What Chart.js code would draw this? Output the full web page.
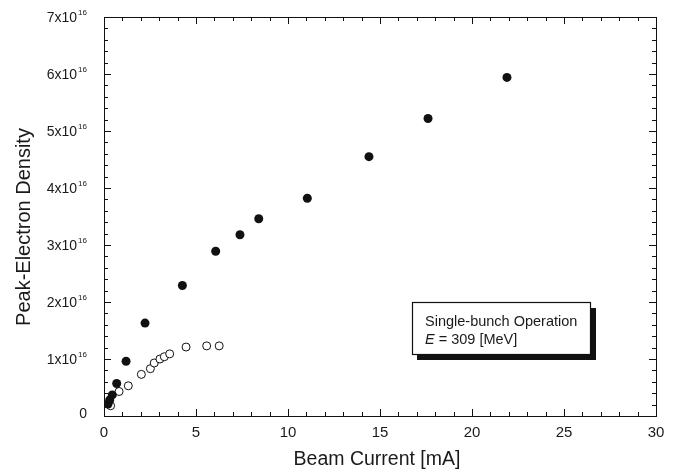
<!DOCTYPE html>
<html>
<head>
<meta charset="utf-8">
<script src="https://cdn.jsdelivr.net/npm/chart.js@4/dist/chart.umd.min.js"></script>
<style>
  html, body { margin: 0; padding: 0; background: #fff; }
  #wrap { width: 674px; height: 472px; }
</style>
</head>
<body>
<div id="wrap"><canvas id="c" width="674" height="472"></canvas></div>
<script>
// Beam current [mA] and peak electron density [10^16] for single-bunch runs
const filledCurrent = [0.22, 0.31, 0.45, 0.69, 1.20, 2.23, 4.26, 6.07, 7.39, 8.41, 11.05, 14.40, 17.61, 21.90];
const filledDensity = [0.21, 0.28, 0.37, 0.57, 0.96, 1.63, 2.29, 2.89, 3.18, 3.46, 3.82, 4.55, 5.22, 5.94];

const openCurrent = [0.36, 0.82, 1.32, 2.03, 2.52, 2.73, 3.04, 3.28, 3.57, 4.46, 5.58, 6.26];
const openDensity = [0.18, 0.43, 0.53, 0.73, 0.83, 0.93, 1.00, 1.04, 1.09, 1.21, 1.23, 1.23];

const xTicks = [0, 5, 10, 15, 20, 25, 30];
const yTicks = [0, 1, 2, 3, 4, 5, 6, 7];   // in units of 10^16

const xTitle = 'Beam Current [mA]';
const yTitle = 'Peak-Electron Density';
const noteLine1 = 'Single-bunch Operation';
const noteLine2 = ['E', ' = 309 [MeV]'];

const FONT = '"Liberation Sans", Arial, sans-serif';

function pairs(xs, ys) { return xs.map((x, i) => ({ x: x, y: ys[i] })); }

// Frame, inward ticks on all four sides, tick labels, titles and the note box
const framePlugin = {
  id: 'frame',
  afterDraw(chart) {
    const ctx = chart.ctx;
    const xs = chart.scales.x, ys = chart.scales.y;
    const a = chart.chartArea;
    ctx.save();
    ctx.strokeStyle = '#111';
    ctx.lineWidth = 1;
    ctx.strokeRect(a.left + 0.5, a.top + 0.5, a.right - a.left, a.bottom - a.top);

    ctx.beginPath();
    for (let v = 0; v <= 30 + 1e-9; v += 1) {
      const px = Math.round(xs.getPixelForValue(v)) + 0.5;
      const len = (Math.round(v) % 5 === 0) ? 7 : 4;
      ctx.moveTo(px, a.bottom); ctx.lineTo(px, a.bottom - len);
      ctx.moveTo(px, a.top); ctx.lineTo(px, a.top + len);
    }
    for (let k = 0; k <= 35; k++) {
      const v = k * 0.2;
      const py = Math.round(ys.getPixelForValue(v)) + 0.5;
      const len = (k % 5 === 0) ? 7 : 4;
      ctx.moveTo(a.left, py); ctx.lineTo(a.left + len, py);
      ctx.moveTo(a.right, py); ctx.lineTo(a.right - len, py);
    }
    ctx.stroke();

    ctx.fillStyle = '#1a1a1a';
    ctx.font = '15px ' + FONT;
    ctx.textAlign = 'center';
    ctx.textBaseline = 'middle';
    xTicks.forEach(v => ctx.fillText(String(v), xs.getPixelForValue(v), a.bottom + 17));

    const labelRight = 87;
    yTicks.forEach(v => {
      const py = ys.getPixelForValue(v);
      ctx.textBaseline = 'middle';
      if (v === 0) {
        ctx.font = '14px ' + FONT;
        ctx.textAlign = 'right';
        ctx.fillText('0', labelRight, py - 2);
        return;
      }
      ctx.font = '8px ' + FONT;
      ctx.textAlign = 'right';
      const supW = ctx.measureText('16').width;
      ctx.fillText('16', labelRight, py - 4);
      ctx.font = '14px ' + FONT;
      ctx.fillText(v + 'x10', labelRight - supW - 1, py + 1);
    });

    ctx.font = '19.5px ' + FONT;
    ctx.textAlign = 'center';
    ctx.textBaseline = 'middle';
    ctx.fillText(xTitle, 377, 460);
    ctx.save();
    ctx.font = '20px ' + FONT;
    ctx.textBaseline = 'alphabetic';
    ctx.translate(30, 227);
    ctx.rotate(-Math.PI / 2);
    ctx.fillText(yTitle, 0, 0);
    ctx.restore();

    // note box with drop shadow
    const bx = 412, by = 302, bw = 178, bh = 52, sh = 6;
    ctx.fillStyle = '#111';
    ctx.fillRect(bx + bw, by + sh, sh, bh);
    ctx.fillRect(bx + sh - 1, by + bh, bw - sh + 1, sh);
    ctx.fillStyle = '#fff';
    ctx.fillRect(bx, by, bw, bh);
    ctx.strokeStyle = '#111';
    ctx.lineWidth = 1.2;
    ctx.strokeRect(bx + 0.5, by + 0.5, bw, bh);
    ctx.fillStyle = '#1a1a1a';
    ctx.textAlign = 'left';
    ctx.textBaseline = 'alphabetic';
    ctx.font = '14.5px ' + FONT;
    ctx.fillText(noteLine1, 425, 326);
    ctx.font = 'italic 14.5px ' + FONT;
    ctx.fillText(noteLine2[0], 425, 344);
    const ew = ctx.measureText(noteLine2[0]).width;
    ctx.font = '14.5px ' + FONT;
    ctx.fillText(noteLine2[1], 425 + ew, 344);
    ctx.restore();
  }
};

new Chart(document.getElementById('c'), {
  type: 'scatter',
  data: {
    datasets: [
      {
        label: 'filled',
        data: pairs(filledCurrent, filledDensity),
        pointStyle: 'circle',
        pointRadius: 4.5,
        backgroundColor: '#111',
        borderColor: '#111',
        borderWidth: 0
      },
      {
        label: 'open',
        data: pairs(openCurrent, openDensity),
        pointStyle: 'circle',
        pointRadius: 4,
        backgroundColor: '#fff',
        borderColor: '#111',
        borderWidth: 1
      }
    ]
  },
  options: {
    responsive: false,
    animation: false,
    layout: { padding: { left: 104, right: 18, top: 17, bottom: 56 } },
    plugins: { legend: { display: false }, tooltip: { enabled: false } },
    scales: {
      x: { type: 'linear', min: 0, max: 30, display: false },
      y: { type: 'linear', min: 0, max: 7, display: false }
    }
  },
  plugins: [framePlugin]
});
</script>
</body>
</html>
